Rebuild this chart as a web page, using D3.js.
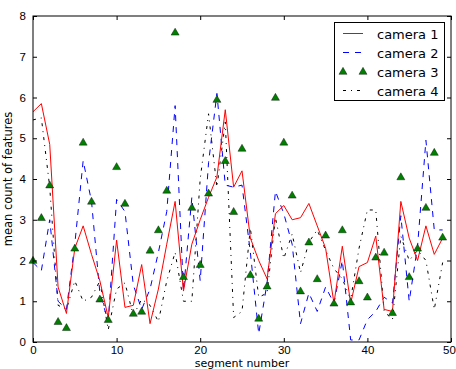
<!DOCTYPE html>
<html>
<head>
<meta charset="utf-8">
<script src="https://cdnjs.cloudflare.com/ajax/libs/d3/7.8.5/d3.min.js"></script>
<style>
  body { margin: 0; background: #fff; }
  svg { display: block; font-family: "DejaVu Sans", sans-serif; }
</style>
</head>
<body>
<svg id="chart" width="456" height="369"></svg>
<script>
// values, one per segment 0..49
const segments = d3.range(0, 50);
const camera1 = [5.65, 5.85, 4.85, 1.35, 0.7, 2.3, 2.85, 2.15, 1.5, 0.6,
  2.5, 0.85, 0.9, 1.9, 0.45, 1.3, 2.4, 3.45, 1.25, 2.4,
  3.0, 3.55, 4.05, 5.7, 3.8, 4.2, 2.55, 2.0, 1.55, 3.15,
  3.35, 3.0, 3.05, 3.4, 2.85, 2.3, 0.95, 2.35, 0.95, 1.85,
  1.95, 2.6, 0.8, 0.75, 3.45, 2.55, 2.0, 2.85, 2.15, 2.55];
const camera2 = [1.95, 1.75, 3.0, 1.0, 0.8, 2.4, 4.45, 3.45, 1.2, 0.5,
  3.5, 3.2, 1.4, 0.8, 1.3, 2.2, 3.2, 5.8, 1.25, 3.55,
  1.5, 4.4, 6.1, 3.85, 3.8, 3.85, 2.2, 0.2, 1.45, 3.7,
  3.15, 2.4, 0.45, 1.2, 0.75, 1.35, 0.95, 2.0, 0.05, 0.05,
  0.55, 0.75, 1.1, 0.95, 3.1, 1.0, 2.35, 4.95, 2.75, 2.75];
const camera3 = [2.0, 3.05, 3.85, 0.5, 0.35, 2.3, 4.9, 3.45, 1.05, 0.55,
  4.3, 3.4, 0.7, 0.75, 2.25, 2.75, 3.72, 7.6, 1.6, 3.3,
  1.9, 3.65, 5.95, 4.45, 3.2, 4.75, 1.65, 0.58, 1.37, 6.0,
  4.9, 3.6, 1.25, 2.45, 1.55, 2.62, 0.95, 2.75, 0.98, 1.5,
  1.1, 2.08, 2.2, 0.72, 4.05, 1.6, 2.3, 3.3, 4.65, 2.57];
const camera4 = [5.45, 5.5, 3.8, 0.9, 0.8, 1.5, 1.0, 1.1, 1.5, 0.3,
  1.3, 1.45, 0.65, 1.05, 0.9, 0.5, 1.5, 2.2, 1.0, 1.0,
  4.0, 5.6, 3.8, 5.4, 0.6, 0.75, 2.8, 1.1, 1.2, 3.05,
  2.05, 2.65, 1.7, 2.45, 2.75, 2.25, 1.8, 1.55, 1.05, 2.3,
  3.24, 3.24, 0.75, 0.55, 2.6, 2.0, 2.25, 2.0, 0.8, 1.95];
const xTicks = [0, 10, 20, 30, 40, 50];
const yTicks = [0, 1, 2, 3, 4, 5, 6, 7, 8];
const labels = ["camera 1", "camera 2", "camera 3", "camera 4"];

const margin = { top: 16, right: 5, bottom: 27, left: 33 },
  width = 456 - margin.left - margin.right,
  height = 369 - margin.top - margin.bottom;

const svg = d3.select("#chart");
const g = svg.append("g")
  .attr("transform", "translate(" + margin.left + "," + margin.top + ")");

const x = d3.scaleLinear().domain([0, 50]).range([0, width]);
const y = d3.scaleLinear().domain([0, 8]).range([height, 0]);

const line = d3.line()
  .x((d, i) => x(segments[i]))
  .y(d => y(d));

// camera 4 : dash-dot black
g.append("path").datum(camera4)
  .attr("d", line).attr("fill", "none")
  .attr("stroke", "#000").attr("stroke-width", 1)
  .attr("stroke-dasharray", "3,5,1,5");

// camera 2 : dashed blue
g.append("path").datum(camera2)
  .attr("d", line).attr("fill", "none")
  .attr("stroke", "#0000ff").attr("stroke-width", 1)
  .attr("stroke-dasharray", "6,6");

// camera 1 : red solid
g.append("path").datum(camera1)
  .attr("d", line).attr("fill", "none")
  .attr("stroke", "#ff0000").attr("stroke-width", 1);

const tri = d3.symbol().type(d3.symbolTriangle).size(28);

// camera 3 : green triangles
g.selectAll(".tri").data(camera3).enter().append("path")
  .attr("class", "tri")
  .attr("d", tri)
  .attr("transform", (d, i) => "translate(" + x(segments[i]) + "," + (y(d) + 0.5) + ")")
  .attr("fill", "#007f00").attr("stroke", "#000").attr("stroke-width", 0.4);

// axes, ticks pointing inward on all four sides
const tickLen = 4;
function styleAxis(sel) {
  sel.select(".domain").remove();
  sel.selectAll("line").attr("stroke", "#000");
  sel.selectAll("text").attr("fill", "#000").style("font-size", "11.5px");
}
const xAxisG = g.append("g").attr("transform", "translate(0," + height + ")")
  .call(d3.axisBottom(x).tickValues(xTicks).tickSizeInner(-tickLen).tickPadding(4))
  .call(styleAxis);
// keep the last label inside the window
xAxisG.selectAll(".tick text").filter(d => d === 50).attr("dx", "-2");
g.append("g")
  .call(d3.axisTop(x).tickValues(xTicks).tickSizeInner(-tickLen).tickFormat(""))
  .call(styleAxis);
g.append("g")
  .call(d3.axisLeft(y).tickValues(yTicks).tickSizeInner(-tickLen).tickPadding(7))
  .call(styleAxis);
g.append("g").attr("transform", "translate(" + width + ",0)")
  .call(d3.axisRight(y).tickValues(yTicks).tickSizeInner(-tickLen).tickFormat(""))
  .call(styleAxis);

g.append("rect")
  .attr("width", width).attr("height", height)
  .attr("fill", "none").attr("stroke", "#000").attr("stroke-width", 1);

g.append("text")
  .attr("x", width / 2).attr("y", height + 25)
  .attr("text-anchor", "middle").style("font-size", "11px")
  .text("segment number");

g.append("text")
  .attr("transform", "rotate(-90)")
  .attr("x", -height / 2).attr("y", -21)
  .attr("text-anchor", "middle").style("font-size", "11.5px")
  .text("mean count of features");

// legend
const legend = svg.append("g").attr("transform", "translate(334,22)");
legend.append("rect")
  .attr("x", 0.5).attr("y", 0.5)
  .attr("width", 110).attr("height", 78)
  .attr("fill", "#fff").attr("stroke", "#000").attr("stroke-width", 1);

const rowY = [11.5, 30.5, 49.5, 68.5];
const styles = [
  { stroke: "#ff0000", dash: "none" },
  { stroke: "#0000ff", dash: "6,6" },
  null,
  { stroke: "#000000", dash: "3,5,1,5" }
];
labels.forEach((name, i) => {
  const row = legend.append("g").attr("transform", "translate(0," + rowY[i] + ")");
  if (styles[i]) {
    row.append("path")
      .attr("d", "M9,0H29")
      .attr("fill", "none")
      .style("stroke", styles[i].stroke).style("stroke-width", 1)
      .style("stroke-dasharray", styles[i].dash);
  } else {
    [9, 29].forEach(px => {
      row.append("path").attr("d", tri)
        .attr("transform", "translate(" + px + ",0.5)")
        .attr("fill", "#007f00").attr("stroke", "#000").attr("stroke-width", 0.4);
    });
  }
  row.append("text")
    .attr("x", 43).attr("y", 5)
    .style("font-size", "13px")
    .text(name);
});
</script>
</body>
</html>
